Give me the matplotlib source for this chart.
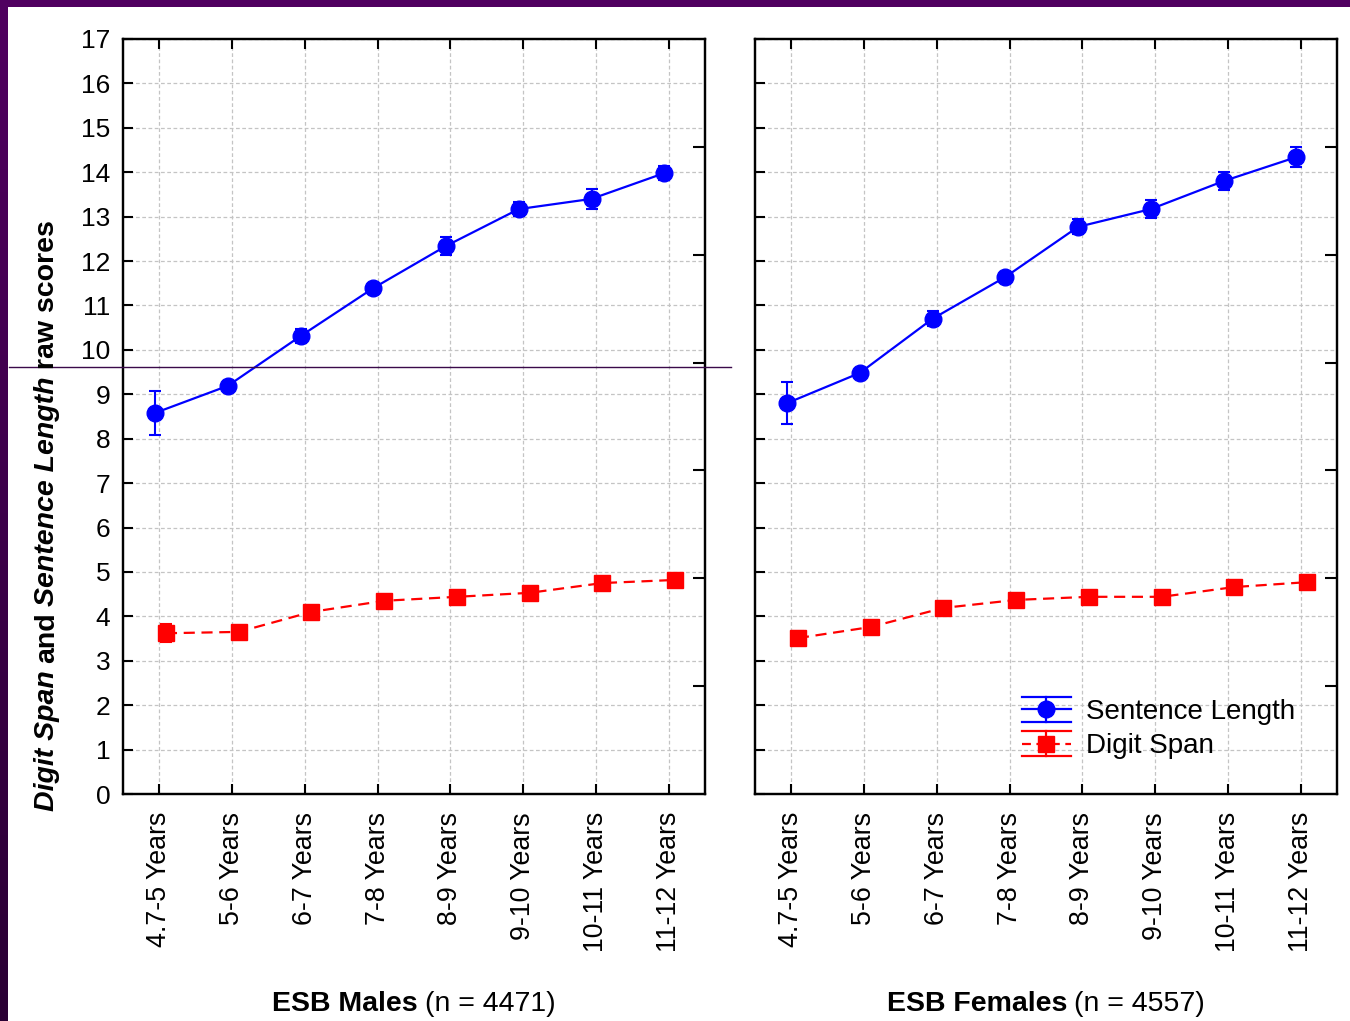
import numpy as np
import matplotlib
matplotlib.use('Agg')
import matplotlib.pyplot as plt
from matplotlib.lines import Line2D
from matplotlib.patches import Rectangle
from matplotlib.legend_handler import HandlerBase
from matplotlib.colors import LinearSegmentedColormap

plt.rcParams['font.family'] = ['Liberation Sans', 'DejaVu Sans']

categories = ['4.7-5 Years', '5-6 Years', '6-7 Years', '7-8 Years',
              '8-9 Years', '9-10 Years', '10-11 Years', '11-12 Years']
male_sentence = [8.58, 9.19, 10.31, 11.39, 12.34, 13.17, 13.40, 13.98]
male_sentence_err = [0.50, 0.10, 0.15, 0.10, 0.20, 0.16, 0.22, 0.15]
male_digit = [3.62, 3.65, 4.10, 4.35, 4.44, 4.53, 4.75, 4.82]
male_digit_err = [0.20, 0.07, 0.07, 0.06, 0.06, 0.06, 0.07, 0.07]
female_sentence = [8.80, 9.48, 10.70, 11.64, 12.77, 13.17, 13.80, 14.34]
female_sentence_err = [0.48, 0.10, 0.17, 0.12, 0.17, 0.20, 0.20, 0.23]
female_digit = [3.51, 3.76, 4.19, 4.37, 4.44, 4.44, 4.66, 4.77]
female_digit_err = [0.15, 0.06, 0.06, 0.06, 0.06, 0.06, 0.06, 0.06]
panel_titles_bold = ['ESB Males', 'ESB Females']
panel_titles_normal = ['(n = 4471)', '(n = 4557)']
series_names = ['Sentence Length', 'Digit Span']
ylabel_parts = [('Digit Span', 'italic'), ('and', 'normal'),
                ('Sentence Length', 'italic'), ('raw scores', 'normal')]

W, H = 1350, 1021
fig = plt.figure(figsize=(W / 100, H / 100), dpi=100)
fig.patch.set_facecolor('white')

def fx(px):
    return px / W

def fy(py):
    return (H - py) / H


class ErrHandler(HandlerBase):
    def __init__(self, color, ls, marker):
        super().__init__()
        self.color = color
        self.ls = ls
        self.marker = marker

    def create_artists(self, legend, orig_handle, xdescent, ydescent, width,
                       height, fontsize, trans):
        x0 = -xdescent
        x1 = x0 + width
        xc = (x0 + x1) / 2
        yc = height / 2 - ydescent
        off = 0.45 * fontsize
        arts = []
        main = Line2D([x0, x1], [yc, yc], color=self.color, ls=self.ls, lw=1.6)
        top = Line2D([x0, x1], [yc + off, yc + off], color=self.color, lw=1.6)
        bot = Line2D([x0, x1], [yc - off, yc - off], color=self.color, lw=1.6)
        vert = Line2D([xc, xc], [yc - off, yc + off], color=self.color, lw=1.6)
        mk = Line2D([xc], [yc], color=self.color, marker=self.marker, ms=12, ls='none')
        for a in (main, top, bot, vert, mk):
            a.set_transform(trans)
            arts.append(a)
        return arts


axes_lefts = [123, 755]
ax_w = 705 - 123
data = [
    (male_sentence, male_sentence_err, male_digit, male_digit_err),
    (female_sentence, female_sentence_err, female_digit, female_digit_err),
]
x = np.arange(len(categories))
for i, left in enumerate(axes_lefts):
    ax = fig.add_axes([fx(left), fy(794), ax_w / W, 755 / H])
    s, se, d, de = data[i]
    ax.errorbar(x - 0.06, s, yerr=se, fmt='o', color='#0000ff', ls='-',
                lw=1.6, ms=12, capsize=4.5, capthick=1.5, elinewidth=1.5,
                label=series_names[0], zorder=4)
    ax.errorbar(x + 0.09, d, yerr=de, fmt='s', color='#ff0000',
                ls=(0, (5, 3)), lw=1.6, ms=11.5, capsize=4.5, capthick=1.5,
                elinewidth=1.5, label=series_names[1], zorder=4)
    ax.set_xlim(-0.5, len(categories) - 0.5)
    ax.set_ylim(0, 17)
    ax.set_xticks(x)
    ax.set_xticklabels(categories, rotation=90, fontsize=19.3, va='top', ha='center')
    ax.set_yticks(np.arange(0, 18))
    if i == 0:
        ax.set_yticklabels([str(v) for v in range(18)], fontsize=19)
    else:
        ax.set_yticklabels([])
    ax.tick_params(axis='x', direction='in', top=True, bottom=True, length=7,
                   width=1.5, pad=13)
    ax.tick_params(axis='y', direction='in', left=True, right=False, length=7,
                   width=1.5, pad=9)
    ax.grid(True, color='#c4c4c4', ls=(0, (3, 2)), lw=0.9)
    ax.set_axisbelow(True)
    for sp in ax.spines.values():
        sp.set_linewidth(1.6)
    tw = ax.twinx()
    tw.set_ylim(0, 17)
    tw.set_yticks(np.arange(1, 7) * 17 / 7)
    tw.set_yticklabels([])
    tw.tick_params(axis='y', direction='in', length=9, width=1.5)
    for sp in tw.spines.values():
        sp.set_linewidth(1.6)
    if i == 1:
        proxy1 = Line2D([], [], color='#0000ff')
        proxy2 = Line2D([], [], color='#ff0000')
        ax.legend(handles=[proxy1, proxy2], labels=series_names, loc='upper left',
                  bbox_to_anchor=(fx(1022), fy(699)), bbox_transform=fig.transFigure,
                  handler_map={proxy1: ErrHandler('#0000ff', '-', 'o'),
                               proxy2: ErrHandler('#ff0000', (0, (4, 2.5)), 's')},
                  frameon=False, fontsize=20, handlelength=1.75,
                  handletextpad=0.55, labelspacing=0.3, borderpad=0,
                  borderaxespad=0)

fig.canvas.draw()
renderer = fig.canvas.get_renderer()

# y-axis label (mixed styles, rotated)
ypos = 811
gap = 7
for txt, style in ylabel_parts:
    t = fig.text(fx(54), fy(ypos), txt, rotation=90, rotation_mode='anchor',
                 ha='left', va='baseline', fontsize=20.5, fontweight='bold',
                 fontstyle=style)
    bb = t.get_window_extent(renderer)
    ypos -= bb.height + gap

# panel titles
for i, left in enumerate(axes_lefts):
    cx = left + ax_w / 2
    t1 = fig.text(0, fy(1011), panel_titles_bold[i], fontsize=20.5, fontweight='bold',
                  ha='left', va='baseline')
    t2 = fig.text(0, fy(1011), panel_titles_normal[i], fontsize=20.5,
                  ha='left', va='baseline')
    w1 = t1.get_window_extent(renderer).width
    w2 = t2.get_window_extent(renderer).width
    total = w1 + 7 + w2
    start = cx - total / 2
    t1.set_x(fx(start))
    t2.set_x(fx(start + w1 + 7))

# stray horizontal line
fig.add_artist(Line2D([fx(9), fx(731)], [fy(367), fy(367)],
                      transform=fig.transFigure, color='#3a0a4a', lw=1.0))

# purple border
fig.add_artist(Rectangle((0, fy(7)), 1, 7 / H, transform=fig.transFigure,
                         color='#500060', lw=0, zorder=10))
bax = fig.add_axes([0, 0, fx(8), 1 - 7 / H])
grad = np.linspace(0, 1, 256).reshape(-1, 1)
cmap = LinearSegmentedColormap.from_list('p', ['#500060', '#2a0034'])
bax.imshow(grad, aspect='auto', cmap=cmap, origin='upper')
bax.set_axis_off()

fig.savefig('out.png', dpi=100)
